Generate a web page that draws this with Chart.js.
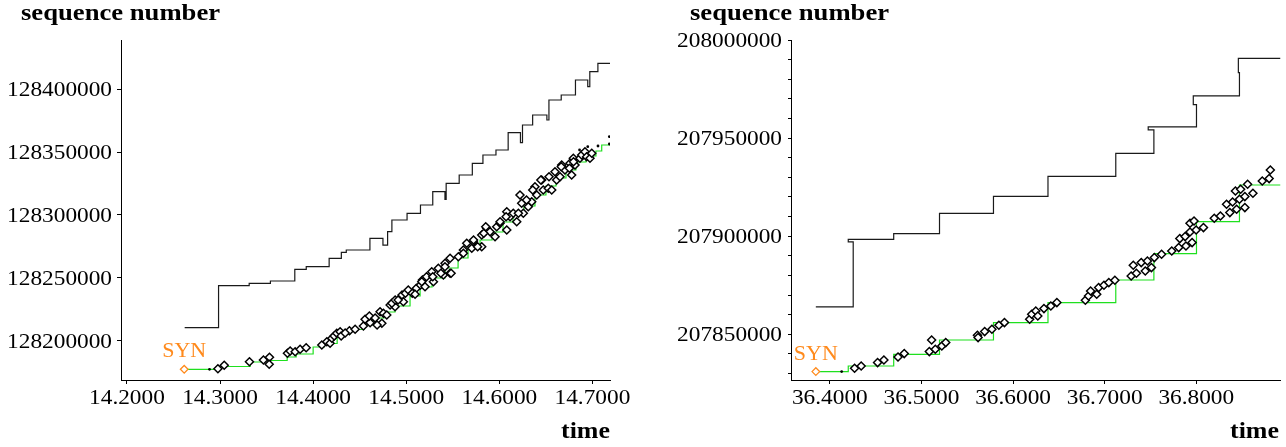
<!DOCTYPE html>
<html>
<head>
<meta charset="utf-8">
<script src="https://cdn.jsdelivr.net/npm/chart.js@4"></script>
<style>
  html, body { margin: 0; padding: 0; background: #fff; overflow: hidden; }
  .panel { position: absolute; top: 0; }
  canvas { display: block; }
  .t { position: absolute; font: bold 24px "Liberation Serif", serif; line-height: 24px;
       white-space: nowrap; transform-origin: 0 0; color: #000; }
</style>
</head>
<body>
<div class="panel" style="left:0"><canvas id="left" width="640" height="447"></canvas></div>
<div class="panel" style="left:640px"><canvas id="right" width="646" height="447"></canvas></div>
<div class="t" style="left:21px;top:0;transform:scaleX(1.11)">sequence number</div>
<div class="t" style="left:690px;top:0;transform:scaleX(1.11)">sequence number</div>
<div class="t" style="left:561px;top:418px;transform:scaleX(1.08)">time</div>
<div class="t" style="left:1230px;top:418px;transform:scaleX(1.08)">time</div>
<script>
(() => {
  "use strict";

  // ---- left trace ----
  const leftXTicks = [14.2, 14.3, 14.4, 14.5, 14.6, 14.7];
  const leftYTicks = [128200000, 128250000, 128300000, 128350000, 128400000];
  const leftSyn = [14.2615, 128177247];

  // receive window (black)
  const leftWinT = [14.2620, 14.2984, 14.3313, 14.3541, 14.3803, 14.3926, 14.4172, 14.4303, 14.4356,
    14.4610, 14.4750, 14.4800, 14.4846, 14.5009, 14.5153, 14.5285, 14.5416, 14.5429, 14.5569, 14.5710,
    14.5824, 14.5964, 14.6095, 14.6227, 14.6249, 14.6358, 14.6511, 14.6533, 14.6665, 14.6818, 14.6950,
    14.6972, 14.7059, 14.7189];
  const leftWinS = [128210366, 128243779, 128245641, 128247494, 128256778, 128258894, 128265529, 128270303,
    128272156, 128281441, 128276000, 128286739, 128296023, 128301329, 128307956, 128318561, 128312467,
    128325196, 128331823, 128341107, 128347734, 128351711, 128365498, 128357543, 128371600, 128379556,
    128375578, 128391489, 128395467, 128407400, 128402093, 128414027, 128420662, 128420662];

  // acks (green)
  const leftAckT = [14.2615, 14.2980, 14.3324, 14.3463, 14.3721, 14.3818, 14.4000, 14.4118, 14.4258,
    14.4397, 14.4548, 14.4633, 14.4762, 14.4880, 14.5041, 14.5149, 14.5278, 14.5417, 14.5557, 14.5664,
    14.5793, 14.5922, 14.6040, 14.6147, 14.6265, 14.6383, 14.6501, 14.6609, 14.6716, 14.6823, 14.6931,
    14.7038, 14.7100, 14.7189];
  const leftAckS = [128177247, 128179475, 128183055, 128184248, 128187033, 128189419, 128194988, 128197772,
    128205330, 128208910, 128212490, 128218059, 128222832, 128227606, 128235561, 128242721, 128249881,
    128257836, 128265792, 128273747, 128280112, 128286477, 128294432, 128300796, 128307161, 128315912,
    128323073, 128329436, 128335800, 128342165, 128346938, 128350916, 128355689, 128355689];

  // data segments (diamonds)
  const leftSegT = [14.2977, 14.3045, 14.3316, 14.3466, 14.3531, 14.3528, 14.3724, 14.3753, 14.3807, 14.3860,
    14.3925, 14.4093, 14.4147, 14.4182, 14.4201, 14.4226, 14.4254, 14.4290, 14.4390, 14.4451,
    14.4540, 14.4558, 14.4612, 14.4604, 14.4719, 14.4755, 14.4738, 14.4827, 14.4880, 14.4791,
    14.4846, 14.4881, 14.4955, 14.4991, 14.5022, 14.5065, 14.5109, 14.5153, 14.5174, 14.5218,
    14.4969, 14.5095, 14.5167, 14.5202, 14.5274, 14.5292, 14.5345, 14.5399, 14.5417, 14.5471,
    14.5471, 14.5560, 14.5614, 14.5650, 14.5704, 14.5721, 14.5811, 14.5811, 14.5865, 14.5900,
    14.5954, 14.5972, 14.6008, 14.6080, 14.6115, 14.6150, 14.6080, 14.6187, 14.6222, 14.6240,
    14.6258, 14.6311, 14.6348, 14.6383, 14.6402, 14.6455, 14.6472, 14.6526, 14.6563, 14.6598,
    14.6616, 14.6652, 14.6670, 14.6705, 14.6759, 14.6777, 14.6795, 14.6866, 14.6885, 14.6920,
    14.6938, 14.6974, 14.6993, 14.5372, 14.5416, 14.5767, 14.5833, 14.6292, 14.6359, 14.6534,
    14.6753, 14.6813, 14.4301, 14.4344, 14.4666, 14.4687, 14.4913,
    14.5285, 14.5482, 14.5614, 14.5723, 14.5854, 14.6008, 14.6073, 14.6205, 14.6446, 14.6665, 14.6797];
  const leftSegS = [128177725, 128180430, 128183293, 128184646, 128186794, 128181225, 128189976, 128191806,
    128191249, 128193158, 128194431, 128196579, 128199204, 128197932, 128201909, 128203739, 128205887,
    128207160, 128207956, 128209069, 128211695, 128217025, 128214320, 128219650, 128223071, 128221798,
    128213842, 128228401, 128227049, 128220446, 128229754, 128232379, 128236357, 128237709, 128240334,
    128237709, 128241687, 128244312, 128248290, 128250915, 128231026, 128237000, 128246937, 128242960,
    128254893, 128246937, 128257598, 128252268, 128261576, 128265553, 128253620, 128266826, 128272156,
    128277487, 128273509, 128278759, 128274782, 128284090, 128289420, 128286715, 128282737, 128290693,
    128293398, 128302626, 128298648, 128301353, 128288067, 128294670, 128315912, 128309309, 128301353,
    128306604, 128310581, 128322515, 128315912, 128327844, 128319890, 128321242, 128319890, 128334448,
    128327844, 128330470, 128339778, 128335800, 128341131, 128331823, 128345108, 128345108, 128347734,
    128350359, 128346381, 128345108, 128349086, 128253620, 128258871, 128274782, 128285443, 128311934,
    128319890, 128330470, 128337153, 128339778, 128203739, 128206126, 128218059, 128212490, 128232379,
    128250915, 128253620, 128269531, 128280112, 128290693, 128294670, 128298648, 128301353, 128327844,
    128338426, 128342403];

  const leftDotT = [14.2887, 14.6862, 14.6950, 14.7060, 14.7182, 14.7182];
  const leftDotS = [128177250, 128351711, 128354337, 128354894, 128362292, 128356485];

  // ---- right trace ----
  const rightXTicks = [36.4, 36.5, 36.6, 36.7, 36.8];
  const rightYLabels = [207850000, 207900000, 207950000, 208000000];
  const rightYMarks = [207830000, 207840000, 207850000, 207860000, 207870000, 207880000, 207890000,
    207900000, 207910000, 207920000, 207930000, 207940000, 207950000, 207960000, 207970000, 207980000,
    207990000, 208000000];
  const rightSyn = [36.3847, 207830988];

  const rightWinT = [36.3847, 36.4255, 36.4201, 36.4697, 36.5197, 36.5786, 36.6381, 36.7121, 36.7537,
    36.7475, 36.8002, 36.7967, 36.8471, 36.8459, 36.8919];
  const rightWinS = [207863931, 207897063, 207898422, 207901311, 207911674, 207920339, 207930533, 207942256,
    207954147, 207955676, 207967062, 207971477, 207983373, 207990677, 207990677];

  const rightAckT = [36.3847, 36.4201, 36.4697, 36.5197, 36.5786, 36.6381, 36.7121, 36.7537, 36.8002,
    36.8471, 36.8919];
  const rightAckS = [207830988, 207833843, 207839806, 207847095, 207855963, 207866157, 207877677,
    207891133, 207907443, 207926098, 207926098];

  const rightSegT = [36.4270, 36.4342, 36.4521, 36.4590, 36.4744, 36.4812, 36.5086, 36.5111, 36.5151, 36.5222,
    36.5265, 36.5611, 36.5618, 36.5690, 36.5769, 36.5845, 36.5906, 36.6181, 36.6203, 36.6248,
    36.6270, 36.6337, 36.6412, 36.6478, 36.6789, 36.6823, 36.6846, 36.6913, 36.6934, 36.6992,
    36.7045, 36.7111, 36.7289, 36.7346, 36.7312, 36.7399, 36.7443, 36.7466, 36.7510, 36.7542,
    36.7621, 36.7732, 36.7808, 36.7820, 36.7878, 36.7887, 36.7931, 36.7954, 36.7931, 36.7975,
    36.7998, 36.8078, 36.8196, 36.8263, 36.8330, 36.8396, 36.8366, 36.8440, 36.8427, 36.8484,
    36.8471, 36.8530, 36.8530, 36.8560, 36.8618, 36.8720, 36.8795, 36.8808];
  const rightSegS = [207832670, 207833843, 207835575, 207836901, 207838430, 207840163, 207841182, 207847095,
    207842354, 207844037, 207845769, 207849490, 207848318, 207851376, 207852549, 207854587, 207855963,
    207857646, 207860194, 207861876, 207859328, 207863099, 207864425, 207866157, 207867330, 207869522,
    207872070, 207870388, 207873803, 207874975, 207876351, 207877524, 207879716, 207881092, 207885169,
    207886545, 207882264, 207887361, 207883997, 207889094, 207890776, 207892458, 207894191, 207898778,
    207899797, 207895007, 207902142, 207896739, 207906577, 207907749, 207903162, 207904385, 207909125,
    207910298, 207916261, 207917433, 207912030, 207913713, 207923040, 207923907, 207918810, 207920186,
    207914579, 207926455, 207921868, 207928136, 207929360, 207933743];

  const rightDotT = [36.4129];
  const rightDotS = [207830988];

  // ---- drawing ----
  const SX = 1.11;            // the original font is drawn a bit wider than Times
  const SYN_COLOR = "#ff8a1c";
  const GREEN = "#1fe01f";

  const pts = (ts, ss) => ts.map((t, i) => ({ x: t, y: ss[i] }));

  const tickText = {
    id: "tickText",
    afterDraw(chart, args, o) {
      const ctx = chart.ctx, xs = chart.scales.x, ys = chart.scales.y;
      const put = (txt, x, y, align) => {
        const w = ctx.measureText(txt).width * SX;
        ctx.save();
        ctx.translate(align === "right" ? x - w : x - w / 2, y);
        ctx.scale(SX, 1);
        ctx.fillText(txt, 0, 0);
        ctx.restore();
      };
      ctx.save();
      ctx.fillStyle = "#000";
      ctx.textAlign = "left";
      ctx.textBaseline = "alphabetic";
      ctx.font = '21px "Liberation Serif"';
      o.xTicks.forEach(v => put(v.toFixed(4), xs.getPixelForValue(v), xs.top + 24, "center"));
      o.yLabels.forEach(v => put(String(v), ys.right - 9, ys.getPixelForValue(v) + 7, "right"));
      // SYN label
      ctx.font = '22px "Liberation Serif"';
      ctx.fillStyle = SYN_COLOR;
      ctx.textAlign = "center";
      ctx.fillText("SYN", xs.getPixelForValue(o.syn[0]), ys.getPixelForValue(o.syn[1]) - 12);
      ctx.restore();
    }
  };

  function panel(id, o) {
    const axis = { drawOnChartArea: false, tickLength: 4, color: "#000", tickColor: "#000" };
    return new Chart(document.getElementById(id), {
      type: "scatter",
      data: {
        datasets: [
          { data: pts(o.segT, o.segS), pointStyle: "rectRot", pointRadius: 4,
            backgroundColor: "#fff", borderColor: "#000", borderWidth: 1.5, order: 0 },
          { data: pts([o.syn[0]], [o.syn[1]]), pointStyle: "rectRot", pointRadius: 3.8,
            backgroundColor: "#fff", borderColor: SYN_COLOR, borderWidth: 1.3, order: 0 },
          { data: pts(o.dotT, o.dotS), pointRadius: 1.4, backgroundColor: "#000", borderWidth: 0, order: 1 },
          { data: pts(o.ackT, o.ackS), showLine: true, stepped: true, pointRadius: 0,
            borderColor: GREEN, borderWidth: 1.2, order: 2 },
          { data: pts(o.winT, o.winS), showLine: true, stepped: true, pointRadius: 0,
            borderColor: "#1a1a1a", borderWidth: 1.2, order: 3 }
        ]
      },
      options: {
        responsive: false,
        animation: false,
        devicePixelRatio: 1,
        layout: { padding: { top: 40, right: o.padRight, left: 0, bottom: 0 } },
        plugins: {
          legend: { display: false },
          tooltip: { enabled: false },
          tickText: { xTicks: o.xTicks, yLabels: o.yLabels, syn: o.syn }
        },
        scales: {
          x: {
            type: "linear", min: o.xMin, max: o.xMax,
            afterBuildTicks: s => { s.ticks = o.xTicks.map(v => ({ value: v })); },
            afterFit: s => { s.height = 67; },
            ticks: { display: false },
            grid: axis,
            border: { color: "#000", width: 1 }
          },
          y: {
            type: "linear", min: o.yMin, max: o.yMax,
            afterBuildTicks: s => { s.ticks = o.yMarks.map(v => ({ value: v })); },
            afterFit: s => { s.width = o.yWidth; },
            ticks: { display: false },
            grid: Object.assign({}, axis, { tickLength: o.yTickLen }),
            border: { color: "#000", width: 1 }
          }
        }
      },
      plugins: [tickText]
    });
  }

  panel("left", {
    xMin: 14.1936, xMax: 14.7189, yMin: 128168735, yMax: 128439220,
    yWidth: 121, padRight: 30, yTickLen: 4,
    xTicks: leftXTicks, yLabels: leftYTicks, yMarks: leftYTicks, syn: leftSyn,
    winT: leftWinT, winS: leftWinS, ackT: leftAckT, ackS: leftAckS,
    segT: leftSegT, segS: leftSegS, dotT: leftDotT, dotS: leftDotS
  });

  panel("right", {
    xMin: 36.3576, xMax: 36.8919, yMin: 207826700, yMax: 208000000,
    yWidth: 151, padRight: 0, yTickLen: 3,
    xTicks: rightXTicks, yLabels: rightYLabels, yMarks: rightYMarks, syn: rightSyn,
    winT: rightWinT, winS: rightWinS, ackT: rightAckT, ackS: rightAckS,
    segT: rightSegT, segS: rightSegS, dotT: rightDotT, dotS: rightDotS
  });
})();
</script>
</body>
</html>
